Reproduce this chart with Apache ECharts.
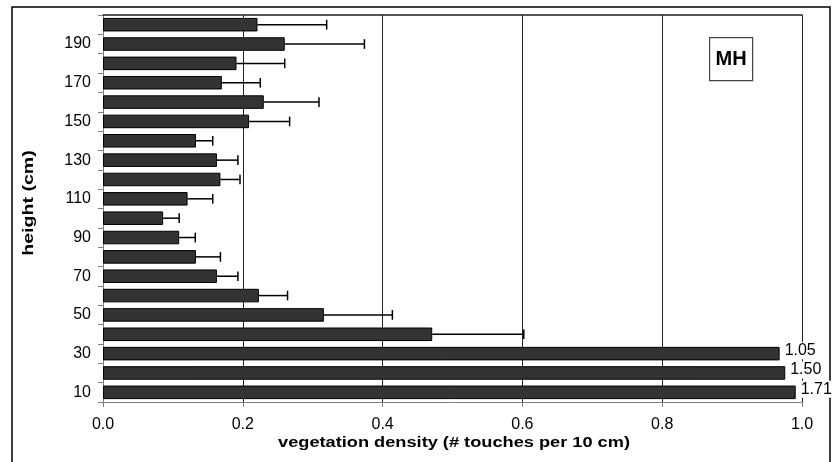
<!DOCTYPE html>
<html><head><meta charset="utf-8">
<script src="https://cdn.jsdelivr.net/npm/echarts@6/dist/echarts.min.js"></script>
<style>html,body{margin:0;padding:0;background:#fff}#c{width:832px;height:462px}</style>
</head><body><div id="c"></div>
<script>
// Heights (cm), bottom to top
const heights = ['10','20','30','40','50','60','70','80','90','100','110','120','130','140','150','160','170','180','190','200'];
// Drawn bar lengths (off-scale bars for 10-30 cm are cut near the axis end)
const barValues = [0.991,0.976,0.968,0.471,0.316,0.223,0.163,0.133,0.109,0.086,0.121,0.168,0.163,0.133,0.209,0.230,0.170,0.191,0.260,0.221];
// Upper end of the error bars
const errorHigh = [null,null,null,0.602,0.414,0.264,0.193,0.168,0.132,0.109,0.157,0.196,0.193,0.157,0.267,0.309,0.225,0.260,0.374,0.320];
// True values printed for off-scale bars
const offScaleLabels = ['1.71','1.50','1.05','','','','','','','','','','','','','','','','',''];
const xTitle = 'vegetation density (# touches per 10 cm)';
const yTitle = 'height (cm)';

const font = "'Liberation Sans', Arial, sans-serif";
const chart = echarts.init(document.getElementById('c'), null, {renderer:'canvas'});

const errData = [];
heights.forEach((h,i)=>{ if(errorHigh[i]!=null) errData.push([barValues[i], errorHigh[i], i]); });

chart.setOption({
  animation:false,
  backgroundColor:'#fff',
  grid:{left:103,right:30,top:15,bottom:60,containLabel:false},
  graphic:[
    {type:'rect',shape:{x:12,y:7,width:818,height:470},style:{fill:'none',stroke:'#000',lineWidth:1.5},z:-10},
    {type:'group',left:709,top:37,children:[
      {type:'rect',shape:{x:0,y:0,width:43,height:43},style:{fill:'#fff',stroke:'#444',lineWidth:1.2}},
      {type:'text',x:21.5,y:22,style:{text:'MH',font:"bold 20px 'Liberation Sans', Arial, sans-serif",fill:'#000',align:'center',verticalAlign:'middle'}}
    ],z:50},
    {type:'text',x:454,y:443,scaleX:1.3,style:{text:xTitle,font:"bold 14px 'Liberation Sans', Arial, sans-serif",fill:'#000',align:'center',verticalAlign:'middle'},z:50},
    {type:'text',x:29,y:203,rotation:Math.PI/2,scaleX:1.4,style:{text:yTitle,font:"bold 14px 'Liberation Sans', Arial, sans-serif",fill:'#000',align:'center',verticalAlign:'middle'},z:50}
  ],
  xAxis:[{
    type:'value',min:0,max:1,interval:0.2,
    axisLine:{show:true,lineStyle:{color:'#808080',width:1}},
    axisTick:{show:true,length:5,lineStyle:{color:'#808080'}},
    axisLabel:{fontFamily:font,fontSize:16,color:'#000',margin:15,formatter:v=>v.toFixed(1)},
    splitLine:{show:true,lineStyle:{color:'#222',width:1}}
  },{
    type:'value',min:0,max:1,interval:0.2,position:'top',
    axisLine:{show:true,lineStyle:{color:'#222',width:1.5}},
    axisTick:{show:false},axisLabel:{show:false},splitLine:{show:false}
  }],
  yAxis:{
    type:'category',data:heights,
    axisLine:{show:true,lineStyle:{color:'#808080',width:1}},
    axisTick:{show:true,length:5,interval:0,lineStyle:{color:'#808080'}},
    axisLabel:{interval:1,fontFamily:font,fontSize:16,color:'#000',margin:12},
    splitLine:{show:false}
  },
  series:[{
    type:'bar',data:barValues,barCategoryGap:'30%',
    itemStyle:{color:'#333333',borderColor:'#000',borderWidth:1},
    label:{show:true,position:'right',distance:4,offset:[0,-3],
      formatter:p=>offScaleLabels[p.dataIndex],
      fontFamily:font,fontSize:16,color:'#000',backgroundColor:'#fff',padding:[1,1,0,1]},
    z:3
  },{
    type:'custom',data:errData,z:4,
    renderItem:function(params,api){
      const y=api.value(2);
      const s=api.coord([api.value(0),y]);
      const e=api.coord([api.value(1),y]);
      const h=api.size([0,1])[1]*0.5;
      const st={stroke:'#000',lineWidth:1.5};
      return {type:'group',children:[
        {type:'line',shape:{x1:s[0],y1:s[1],x2:e[0],y2:e[1]},style:st},
        {type:'line',shape:{x1:e[0],y1:e[1]-h/2,x2:e[0],y2:e[1]+h/2},style:st}
      ]};
    },
    encode:{x:[0,1],y:2}
  }]
});
</script></body></html>
